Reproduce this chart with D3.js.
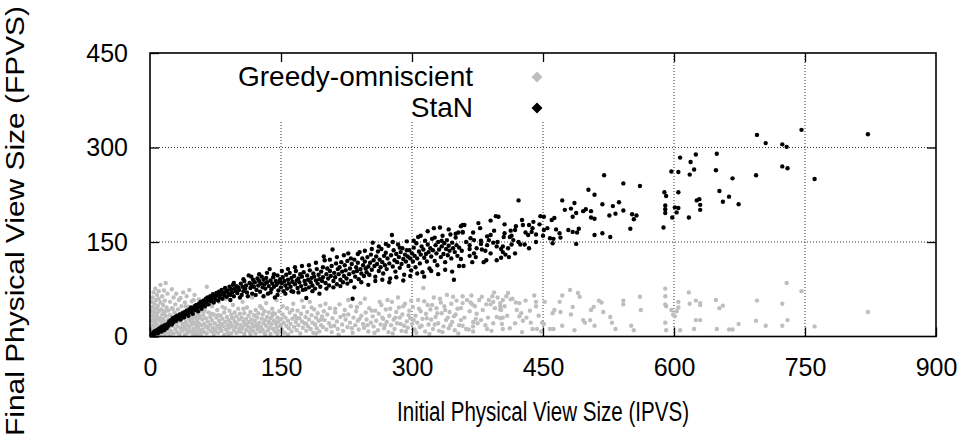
<!DOCTYPE html>
<html>
<head>
<meta charset="utf-8">
<script src="https://cdn.jsdelivr.net/npm/d3@7"></script>
<style>
body { margin:0; background:#fff; }
text { font-family: "Liberation Sans", Arial, Helvetica, sans-serif; }
</style>
</head>
<body>
<div id="svgArea"></div>
<script>
// tick values
var xTicks = [0,150,300,450,600,750,900];
var yTicks = [0,150,300,450];

// series names
var seriesNames = ["Greedy-omniscient","StaN"];

// Greedy-omniscient points [IPVS, FPVS]
var greedyPoints = [
[1,3],[1,12],[2,25],[2,40],[2,55],[3,8],[3,18],[3,33],[3,47],[3,62],[4,5],[4,28],[4,70],[5,14],[5,38],[5,52],[6,2],[6,22],[6,44],[6,76],[7,10],[7,31],[7,58],[8,4],[8,19],[8,36],[8,66],[9,13],[9,27],[9,49],[10,6],[10,40],[10,60],[10,72],[11,16],[11,30],[12,3],[12,24],[12,54],[12,82],[13,11],[13,43],[14,20],[14,35],[14,64],[15,7],[15,28],[15,50],[16,15],[16,39],[16,73],[17,4],[17,24],[17,57],[18,12],[18,33],[18,85],[19,46],[19,19],[20,8],[20,68],
[21,27],[21,41],[22,14],[22,3],[23,34],[23,55],[24,9],[24,22],[25,45],[25,75],[26,17],[26,31],[27,5],[27,62],[28,25],[28,38],[29,12],[29,51],[30,20],[30,68],[31,7],[31,30],[32,43],[32,16],[33,24],[33,58],[34,4],[34,35],[35,13],[35,61],[36,27],[36,48],[37,9],[37,20],[38,39],[38,70],[39,15],[39,31],[40,3],[40,54],[41,23],[41,11],[42,36],[42,64],[43,18],[43,6],[44,29],[44,47],[45,14],[45,74],[46,25],[46,40],[47,8],[47,33],[48,19],[48,56],[49,4],[49,28],[50,37],[50,12],[51,22],[51,66],[52,31],[52,9],[53,17],[53,45],[54,26],[54,5],[55,35],[55,14],[56,59],[56,21],[57,10],[57,30],[58,40],[58,3],[59,18],[59,52],[60,27],[60,11],
[61,34],[62,7],[62,20],[63,44],[64,15],[64,29],[65,79],[65,5],[66,24],[67,38],[67,12],[68,58],[69,19],[69,31],[70,8],[71,26],[71,48],[72,14],[73,35],[73,4],[74,21],[75,63],[75,11],[76,30],[77,17],[77,42],[78,6],[79,25],[79,55],[80,13],[81,33],[81,20],[82,9],[83,28],[83,47],[84,16],[85,38],[85,3],[86,23],[87,11],[87,60],[88,31],[89,18],[89,7],[90,26],[91,41],[91,14],[92,22],[93,5],[93,35],[94,17],[95,29],[95,50],[96,10],[97,24],[97,38],[98,15],[99,32],[99,6],[100,20],
[101,44],[102,12],[102,27],[103,36],[104,8],[104,18],[105,30],[106,55],[106,14],[107,24],[108,4],[108,37],[109,19],[110,28],[110,10],[111,46],[112,16],[113,33],[113,23],[114,7],[115,39],[115,13],[116,27],[117,20],[117,62],[118,9],[119,34],[119,16],[120,25],[121,5],[121,42],[122,19],[123,30],[123,12],[124,93],[124,37],[125,22],[126,8],[126,48],[127,15],[128,28],[129,35],[129,11],[130,21],[131,40],[131,6],[132,26],[133,17],[133,53],[134,31],[135,10],[136,23],[136,38],[137,14],[138,29],[138,4],[139,19],[140,44],[140,33],[141,12],[142,25],[143,8],[143,36],[144,21],[145,15],[145,58],[146,30],[147,9],[147,24],[148,40],[149,17],[150,28],
[5,25],[8,45],[11,8],[14,27],[17,40],[20,14],[23,4],[26,44],[29,22],[32,6],[35,33],[38,18],[41,48],[44,8],[47,23],[50,58],[53,3],[56,33],[59,7],[62,40],[66,16],[70,36],[74,9],[78,34],[82,20],[86,45],[90,4],[94,30],[98,22],[103,8],[107,44],[111,20],[115,4],[120,33],[124,15],[128,45],[132,3],[137,22],[141,37],[146,4],[150,18],
[151,11],[152,35],[153,22],[154,6],[155,30],[156,17],[157,45],[158,25],[159,13],[160,38],[161,20],[162,8],[163,28],[164,52],[165,15],[166,33],[167,23],[168,10],[169,41],[170,18],[171,29],[172,5],[173,36],[174,24],[175,14],[176,47],[177,21],[178,31],[179,9],[180,39],[181,16],[182,27],[183,55],[184,12],[185,34],[186,22],[187,6],[188,43],[189,19],[190,30],[191,13],[192,37],[193,25],[194,8],[195,49],[196,18],[197,32],[198,15],[199,40],[200,26],
[202,11],[203,35],[205,21],[206,45],[208,7],[209,29],[211,17],[212,38],[214,24],[215,12],[217,51],[218,31],[220,19],[221,9],[223,42],[224,27],[226,15],[227,35],[229,22],[230,48],[232,6],[233,30],[235,18],[236,40],[238,25],[239,11],[241,53],[242,33],[244,20],[245,14],[247,38],[248,27],[250,8],[251,45],[252,97],[253,22],[255,32],[256,16],[258,41],[259,25],[261,10],[262,36],[264,19],[265,50],[267,28],[268,13],[270,43],[271,23],[273,7],[274,33],[276,18],[277,55],[279,27],[280,12],[282,39],[283,21],[285,46],[286,30],[288,9],[289,35],[291,17],[292,52],[294,24],[295,14],[297,41],[298,29],[300,20],
[152,48],[158,3],[163,42],[168,29],[174,57],[179,20],[185,46],[190,5],[196,27],[201,52],[207,16],[212,44],[216,3],[222,34],[227,58],[231,13],[237,47],[240,28],[246,60],[249,18],[254,41],[257,6],[263,55],[266,30],[269,18],[272,58],[275,44],[278,5],[281,30],[284,62],[287,20],[290,48],[293,8],[296,34],[299,57],
[301,47],[303,11],[304,33],[306,22],[307,58],[309,15],[310,40],[312,28],[313,77],[315,8],[316,36],[318,50],[319,19],[321,43],[322,27],[324,12],[325,62],[327,31],[328,45],[330,21],[331,9],[333,54],[334,37],[336,16],[337,48],[339,26],[340,66],[342,13],[343,39],[345,52],[346,23],[348,32],[349,10],[351,57],[352,44],[354,18],
[302,26],[305,6],[308,44],[311,17],[314,56],[317,29],[320,4],[323,50],[326,19],[329,37],[332,60],[335,7],[338,42],[341,30],[344,18],[347,63],[350,35],[353,5],[356,45],[360,30],[363,58],[366,40],[370,8],[374,36],[377,58],[381,42],[384,18],[387,30],[391,9],[395,45],[398,62],[403,20],[406,48],[409,33],[412,13],[415,60],[420,42],[426,7],[431,30],[436,22],[440,65],[445,33],[448,8],
[729,85],[746,72],[822,39],[724,52],[730,26],[724,17],[695,57],[694,25],[705,17],[674,20],[663,11],[667,11],[649,12],[648,58],[656,49],[652,45],[761,16],[625,26],[630,26],[623,12],[617,70],[618,52],[625,57],[630,53],[630,50],[607,10],[605,55],[605,46],[603,40],[601,32],[599,35],[597,42],[590,76],[590,64],[590,51],[591,48],[590,22],[591,10],[561,63],[562,42],[542,57],[542,51],[551,17],[554,10],[533,12],[527,31],[529,22],[519,39],[514,57],[517,54],[508,47],[505,42],[496,26],[498,22],[504,26],[509,17],[486,10],[482,35],[484,47],[481,74],[472,65],[469,55],[490,69],[492,63],[470,39],[461,37],[463,42],[472,17],[458,12],[462,12],[449,22],[451,20],[452,55],[442,55],[442,48],[438,12],[443,12],[435,41],[430,57],[427,25],[423,53],[419,54],[423,32],[425,37],[418,21],[410,69],[408,64],[413,59],[404,58],[401,53],[402,42],[401,43],[401,48],[394,70],[392,64],[393,55],[390,51],[388,58],[385,51],[397,31],[401,29],[404,30],[393,21],[404,12],[386,12],[379,26],[375,21],[370,23],[370,16],[373,28],[369,51],[367,54],[372,48],[380,63],[368,65],[358,64],[358,53],[356,26],[358,17],[362,12],[365,11]
];

// StaN points [IPVS, FPVS]
var stanPoints = [
[3,4],[4,7],[5,3],[6,9],[7,6],[8,10],[9,5],[10,12],[11,9],[12,14],[13,8],[14,16],[15,12],[16,10],[17,18],[18,15],[19,13],[20,20],
[21,17],[22,24],[23,21],[24,26],[25,19],[26,29],[27,23],[28,27],[29,31],[30,25],[31,33],[32,28],[33,30],[34,35],[35,27],[36,32],[37,37],[38,33],[39,30],[40,39],[41,35],[42,41],[43,37],[44,33],[45,43],[46,39],[47,46],[48,41],[49,36],[50,44],[51,48],[52,42],[53,50],[54,46],[55,40],[56,52],[57,47],[58,55],[59,44],[60,50],
[61,57],[62,53],[63,48],[64,60],[65,55],[66,62],[67,51],[68,58],[69,64],[70,56],[71,61],[72,67],[73,54],[74,63],[75,59],[76,69],[77,65],[78,57],[79,71],[80,62],[81,67],[82,74],[83,60],[84,69],[85,65],[86,77],[87,71],[88,63],[89,73],[90,68],[91,79],[92,66],[93,75],[94,70],[95,82],[96,64],[97,76],[98,72],[99,80],[100,69],
[101,78],[102,74],[104,84],[105,66],[106,79],[107,72],[108,88],[109,76],[110,81],[111,70],[113,97],[114,85],[115,77],[116,83],[117,68],[118,90],[119,79],[120,86],[122,74],[123,92],[124,81],[125,88],[126,71],[127,84],[128,95],[129,78],[130,90],[131,83],[132,76],[133,93],[134,86],[135,68],[136,80],[137,107],[138,89],[139,75],[140,84],[141,94],[142,79],[143,62],[144,88],[145,82],[146,97],[147,73],[148,86],[149,91],[150,78],
[151,85],[152,94],[153,72],[154,88],[155,81],[156,98],[157,76],[158,90],[159,84],[160,101],[161,79],[162,93],[163,87],[164,71],[165,96],[166,83],[167,104],[168,89],[169,77],[170,92],[171,86],[172,99],[173,80],[174,95],[175,74],[176,102],[177,88],[178,83],[179,61],[180,97],[181,90],[182,78],[183,105],[184,86],[185,93],[186,81],[187,100],[188,95],[189,76],[190,89],[191,107],[192,84],[193,98],[194,91],[195,79],[196,103],[197,88],[198,94],[199,127],[200,121],
[201,85],[202,99],[203,108],[204,92],[205,81],[206,104],[207,96],[208,112],[209,138],[210,88],[211,101],[212,94],[213,116],[214,83],[215,107],[216,99],[217,110],[218,90],[219,118],[220,103],[221,86],[222,96],[223,113],[224,105],[225,92],[226,120],[227,132],[228,99],[229,108],[230,88],[231,115],[232,60],[233,102],[234,122],[235,95],[236,110],[237,104],[238,117],[239,91],[240,134],[241,107],[242,100],[243,124],[244,113],[245,96],[246,119],[247,108],[248,102],[249,126],[250,111],
[251,98],[252,117],[253,130],[254,106],[255,149],[256,121],[257,112],[258,95],[259,127],[260,115],[261,135],[262,104],[263,122],[264,110],[265,139],[266,118],[267,100],[268,128],[269,113],[270,133],[271,107],[272,124],[273,144],[274,116],[275,92],[276,129],[277,161],[278,111],[279,137],[280,121],[281,103],[282,131],[283,118],[284,146],[285,126],[286,109],[287,134],[288,115],[289,140],[290,123],[291,98],[292,130],[293,119],[294,151],[295,127],[296,112],[297,137],[298,124],[299,105],[300,132],
[301,119],[302,141],[303,128],[304,110],[305,148],[306,124],[307,158],[308,135],[309,116],[310,130],[311,143],[312,102],[313,138],[314,125],[315,152],[316,131],[317,119],[318,146],[319,134],[320,108],[321,140],[322,127],[323,155],[324,137],[325,172],[326,120],[327,145],[328,132],[329,113],[330,150],[331,138],[332,173],[333,126],[334,143],[335,160],[336,131],[337,148],[338,118],[339,139],[340,153],[341,129],[342,144],[343,136],[344,162],[345,124],[346,149],[347,140],[348,90],[349,134],[350,157],[351,145],[352,128],[353,165],[354,141],[356,175],[358,166],[360,177],
[92,58],[96,85],[103,62],[107,91],[112,64],[116,95],[121,66],[125,99],[130,64],[134,101],[138,70],[142,99],[146,66],[151,104],[155,68],[158,107],[162,72],[166,110],[170,70],[174,112],[178,75],[182,113],[186,72],[190,117],[194,68],[198,110],[202,76],[206,122],[210,78],[214,126],[218,80],[222,129],[226,84],[230,124],[234,78],[238,131],[242,86],[246,136],[250,82],[254,139],[258,88],[262,143],[266,90],[270,147],[274,86],[278,150],[282,94],[286,141],[290,89],[294,137],[298,96],[302,152],[306,100],[310,160],[314,95],[318,167],[322,104],[326,157],[330,99],[334,152],[338,106],[342,170],[346,103],[350,163],[354,112],[362,150],[366,128],[370,165],[374,140],[378,172],[382,118],[386,145],[390,132],[394,168],[398,150],[402,125],[406,178],[410,140],[414,160],[418,132],[422,150],[426,185],[430,165],[434,140],[438,172],[442,150],[446,178],[450,160],[455,172],[460,185],[465,170],
[746,328],[822,321],[695,320],[705,307],[724,305],[729,301],[724,270],[730,267],[761,250],[694,256],[649,290],[625,289],[607,284],[619,277],[623,265],[618,257],[605,261],[597,262],[648,264],[667,251],[652,231],[663,222],[656,214],[674,210],[626,216],[629,218],[630,209],[630,201],[617,189],[605,229],[589,229],[591,223],[590,208],[590,202],[590,196],[588,173],[598,189],[603,197],[601,205],[605,204],[520,256],[542,243],[561,239],[502,233],[509,225],[472,216],[486,212],[475,201],[482,203],[488,196],[484,190],[496,199],[499,202],[505,199],[505,189],[509,187],[518,210],[530,207],[537,213],[526,192],[533,195],[542,200],[552,194],[557,192],[554,186],[550,171],[518,164],[509,161],[527,158],[491,171],[489,165],[488,147],[479,169],[484,166],[469,164],[470,157],[458,156],[462,155],[461,148],[463,188],[451,190],[447,191],[451,169],[442,162],[437,166],[439,182],[433,161],[434,177],[427,177],[422,216],[429,146],[424,146],[419,175],[418,169],[413,168],[412,158],[406,164],[405,158],[399,190],[396,191],[390,184],[376,180],[358,177],[358,165],[357,136],[356,123],[359,112],[369,118],[373,126],[371,132],[385,121],[397,121],[386,159],[388,153],[393,149],[397,143],[404,143],[407,130],[411,126],[404,134],[402,139],[414,146],[416,153],[367,156],[371,153],[366,145],[379,152],[380,138],[379,147],[366,139],[384,136],[390,161]
];

var W = 968, H = 439;
var plotL = 150, plotR = 936, plotT = 53, plotB = 336.5;

var svg = d3.select("#svgArea").append("svg").attr("width", W).attr("height", H);

var xScale = d3.scaleLinear().domain([0, 900]).range([plotL, plotR]);
var yScale = d3.scaleLinear().domain([0, 450]).range([plotB, plotT]);

// grid lines (dotted)
var grid = svg.append("g");
grid.selectAll("line.gx")
  .data(xTicks.slice(1, -1))
  .enter().append("line")
  .attr("x1", d => xScale(d)).attr("x2", d => xScale(d))
  .attr("y1", plotT).attr("y2", plotB)
  .attr("stroke", "#333").attr("stroke-width", 1).attr("stroke-dasharray", "1,2");
grid.selectAll("line.gy")
  .data(yTicks.slice(1, -1))
  .enter().append("line")
  .attr("x1", plotL).attr("x2", plotR)
  .attr("y1", d => yScale(d)).attr("y2", d => yScale(d))
  .attr("stroke", "#333").attr("stroke-width", 1).attr("stroke-dasharray", "1,2");

// key box hides the grid behind the legend
svg.append("rect").attr("x", 215).attr("y", plotT).attr("width", 345).attr("height", 69).attr("fill", "#fff");

// points
function drawPoints(data, color) {
  svg.append("g").selectAll("circle")
    .data(data)
    .enter().append("circle")
    .attr("cx", d => xScale(d[0]))
    .attr("cy", d => yScale(d[1]))
    .attr("r", 2.2)
    .attr("fill", color);
}
drawPoints(greedyPoints, "#bebebe");
drawPoints(stanPoints, "#000");

// axes with inward ticks, mirrored on top and right
var fs = 25;
var xAxisB = d3.axisBottom(xScale).tickValues(xTicks).tickSize(-9).tickPadding(22);
var yAxisL = d3.axisLeft(yScale).tickValues(yTicks).tickSize(-9).tickPadding(22);
var xAxisT = d3.axisTop(xScale).tickValues(xTicks.slice(1, -1)).tickSize(-9).tickFormat("");
var yAxisR = d3.axisRight(yScale).tickValues(yTicks.slice(1, -1)).tickSize(-9).tickFormat("");

var gB = svg.append("g").attr("transform", "translate(0," + plotB + ")").call(xAxisB);
var gL = svg.append("g").attr("transform", "translate(" + plotL + ",0)").call(yAxisL);
var gT = svg.append("g").attr("transform", "translate(0," + plotT + ")").call(xAxisT);
var gR = svg.append("g").attr("transform", "translate(" + plotR + ",0)").call(yAxisR);
[gB, gL, gT, gR].forEach(function(g) {
  g.select(".domain").remove();
  g.selectAll("line").attr("stroke", "#000").attr("stroke-width", 1.3);
  g.selectAll("text").attr("font-size", fs).attr("fill", "#000")
    .attr("font-family", "'Liberation Sans', Arial, sans-serif");
});

// frame
svg.append("rect").attr("x", plotL).attr("y", plotT)
  .attr("width", plotR - plotL).attr("height", plotB - plotT)
  .attr("fill", "none").attr("stroke", "#000").attr("stroke-width", 1.6);

// axis titles
svg.append("text").attr("x", (plotL + plotR) / 2).attr("y", 421)
  .attr("text-anchor", "middle").attr("font-size", 27)
  .attr("textLength", 292).attr("lengthAdjust", "spacingAndGlyphs")
  .text("Initial Physical View Size (IPVS)");
svg.append("text").attr("transform", "translate(24,221) rotate(-90)")
  .attr("text-anchor", "middle").attr("font-size", 25)
  .attr("textLength", 430).attr("lengthAdjust", "spacingAndGlyphs")
  .text("Final Physical View Size (FPVS)");

// legend
var legColors = ["#bebebe", "#000"];
var legY = [77, 108];
seriesNames.forEach(function(name, i) {
  svg.append("text").attr("x", 473).attr("y", legY[i] + 9)
    .attr("text-anchor", "end").attr("font-size", 28).text(name);
  svg.append("path")
    .attr("transform", "translate(537," + legY[i] + ")")
    .attr("d", "M0,-5.5L5.5,0L0,5.5L-5.5,0Z")
    .attr("fill", legColors[i]);
});
</script>
</body>
</html>
